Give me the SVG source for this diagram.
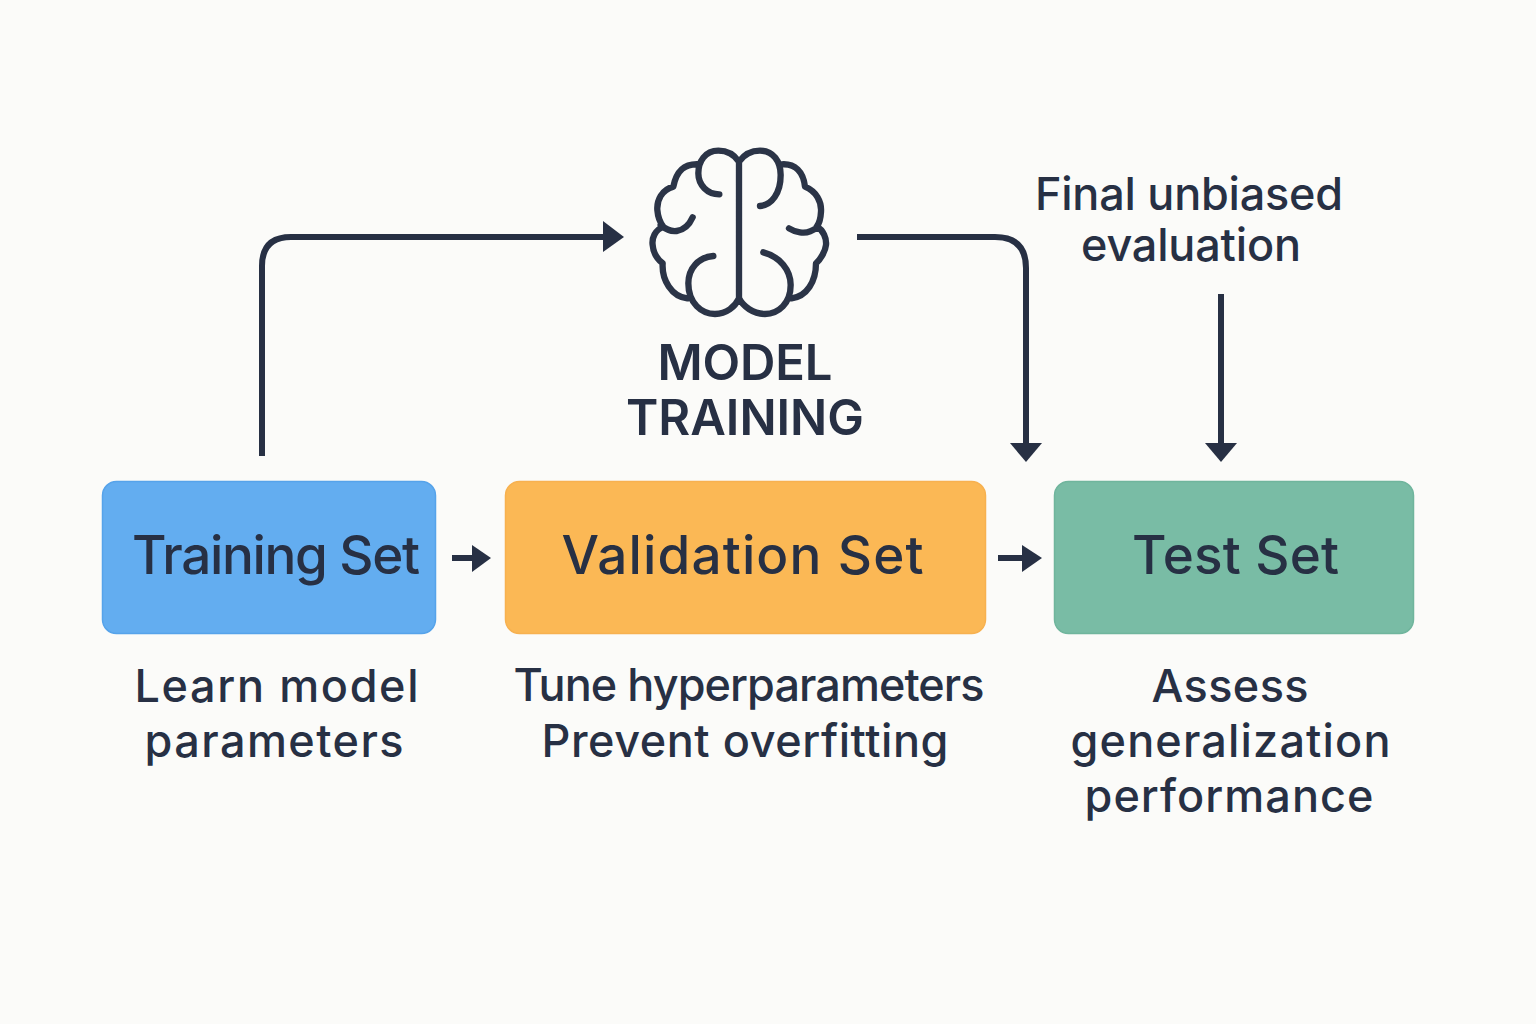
<svg xmlns="http://www.w3.org/2000/svg" width="1536" height="1024" viewBox="0 0 1536 1024">
<style>
text{font-family:Inter,"Noto Sans",sans-serif;fill:#273044;text-anchor:middle}
.h{font-size:53px;font-weight:550}
.m{font-size:49px;font-weight:600}
.b{font-size:45px;font-weight:450}
.c{fill:none;stroke:#273044;stroke-width:6}
.a{fill:#273044;stroke:none}
.br{fill:none;stroke:#2b3447;stroke-width:19;stroke-linecap:round;stroke-linejoin:round}
.n{stroke-width:1.5}
</style>
<rect width="1536" height="1024" fill="#fbfbf9"/>
<g id="connectors">
<path class="c" d="M262 456V266Q262 237 291 237H604"/><path class="a" d="M603 221L624 237L603 252Z"/>
<path class="c" d="M857 237H995Q1026 237 1026 268V444"/><path class="a" d="M1010 443H1042L1026 462Z"/>
<path class="c" d="M1221 294V444"/><path class="a" d="M1205 443H1237L1221 462Z"/>
<path class="c" d="M452 558H474"/><path class="a" d="M472 545L491 558L472 572Z"/>
<path class="c" d="M998 558H1024"/><path class="a" d="M1022 545L1042 558L1022 572Z"/>
</g>
<g id="brain" transform="translate(630 130) scale(.33333)"><path class="br" d="M327 95V505M327 95C310 70 285 62 265 62C225 62 205 95 205 130C205 165 232 193 268 193M208 103C165 100 140 120 130 170C95 180 80 210 82 240C84 265 92 280 100 290C75 300 65 325 68 345C70 370 85 390 98 400C95 450 125 500 172 505M92 285C110 300 125 305 140 303C165 300 180 280 188 262M250 378C205 382 175 415 175 460C175 520 215 552 255 552C290 552 315 530 327 505M327 95C345 70 365 62 390 62C430 62 452 95 452 135C452 190 425 225 390 228M455 103C495 100 520 125 525 170C560 185 575 215 573 245C572 265 568 280 560 290C580 300 590 325 588 345C586 365 570 390 558 400C558 455 530 500 485 505M562 292C545 305 525 310 510 307C495 305 485 300 477 295M400 367C450 380 482 420 482 465C482 520 445 552 405 552C370 552 340 530 327 505"/></g>
<g id="model"><text class="m" x="745" y="380" textLength="175">MODEL</text><text class="m" x="745" y="435" textLength="238">TRAINING</text></g>
<g id="final"><text class="b" x="1189" y="209.500" textLength="308">Final unbiased</text><text class="b" x="1191" y="260.500" textLength="220">evaluation</text></g>
<g id="training"><rect class="n" x="102.500" y="481.500" width="333" height="152" rx="14" fill="#63adf0" stroke="#56a3ea"/><text class="h" x="276" y="574" textLength="288">Training Set</text><text class="b" x="276.500" y="702" textLength="284">Learn model</text><text class="b" x="274" y="757" textLength="259">parameters</text></g>
<g id="validation"><rect class="n" x="505.500" y="481.500" width="480" height="152" rx="14" fill="#fbb855" stroke="#f7b150"/><text class="h" x="742.500" y="574" textLength="362">Validation Set</text><text class="b" x="749" y="701" textLength="471">Tune hyperparameters</text><text class="b" x="745" y="757" textLength="407">Prevent overfitting</text></g>
<g id="test"><rect class="n" x="1054.500" y="481.500" width="359" height="152" rx="14" fill="#79bca5" stroke="#70b59d"/><text class="h" x="1235.500" y="574" textLength="207">Test Set</text><text class="b" x="1230" y="702" textLength="157">Assess</text><text class="b" x="1230.500" y="757" textLength="320">generalization</text><text class="b" x="1229" y="812" textLength="289">performance</text></g>
</svg>
